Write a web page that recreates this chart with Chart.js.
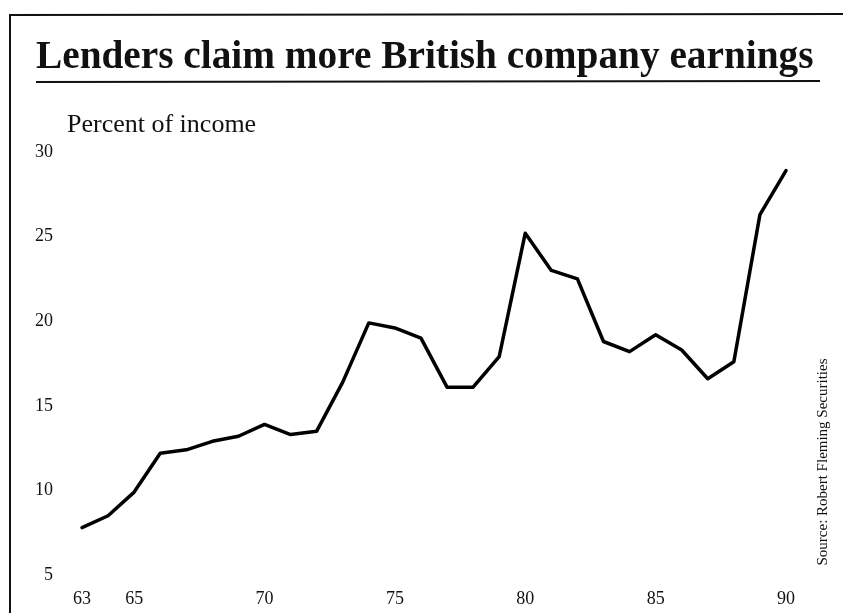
<!DOCTYPE html>
<html>
<head>
<meta charset="utf-8">
<title>Lenders claim more British company earnings</title>
<script src="https://cdn.jsdelivr.net/npm/chart.js@4"></script>
<style>
  html, body { margin: 0; padding: 0; background: #ffffff; }
  #wrap { position: relative; width: 843px; height: 613px; }
  canvas { display: block; }
</style>
</head>
<body>
<div id="wrap"><canvas id="chart" width="843" height="613"></canvas></div>
<script>
// Interest payments as a share of UK company income, 1963-1990
const years = [63, 64, 65, 66, 67, 68, 69, 70, 71, 72, 73, 74, 75, 76, 77,
               78, 79, 80, 81, 82, 83, 84, 85, 86, 87, 88, 89, 90];
const percentOfIncome = [7.8, 8.5, 9.9, 12.2, 12.4, 12.9, 13.2, 13.9, 13.3, 13.5, 16.4, 19.9, 19.6, 19.0, 16.1,
                         16.1, 17.9, 25.2, 23.0, 22.5, 18.8, 18.2, 19.2, 18.3, 16.6, 17.6, 26.3, 28.9];
const xTickLabels = [63, 65, 70, 75, 80, 85, 90];
const yTickLabels = [5, 10, 15, 20, 25, 30];

const titleText = 'Lenders claim more British company earnings';
const unitText = 'Percent of income';
const sourceText = 'Source: Robert Fleming Securities';

const serif = '"Liberation Serif", "DejaVu Serif", serif';

// Frame, headline, rule, unit label and source note drawn around the plot
const decorations = {
  id: 'decorations',
  beforeDraw(chart) {
    const ctx = chart.ctx;
    ctx.save();
    ctx.fillStyle = '#ffffff';
    ctx.fillRect(0, 0, chart.width, chart.height);
    ctx.restore();
  },
  afterDraw(chart) {
    const ctx = chart.ctx;
    ctx.save();
    ctx.strokeStyle = '#111111';
    ctx.fillStyle = '#111111';

    // outer frame: top and left edges
    ctx.lineWidth = 2;
    ctx.beginPath();
    ctx.moveTo(10, 613);
    ctx.lineTo(10, 15);
    ctx.lineTo(843, 14);
    ctx.stroke();

    // headline, fitted to its column width
    let size = 40;
    ctx.font = 'bold ' + size + 'px ' + serif;
    const w = ctx.measureText(titleText).width;
    size = size * 778 / w;
    ctx.font = 'bold ' + size.toFixed(1) + 'px ' + serif;
    ctx.textBaseline = 'alphabetic';
    ctx.textAlign = 'left';
    ctx.fillText(titleText, 36, 68);

    // rule under the headline
    ctx.lineWidth = 2;
    ctx.beginPath();
    ctx.moveTo(36, 82);
    ctx.lineTo(820, 81);
    ctx.stroke();

    // unit label
    ctx.font = '26px ' + serif;
    ctx.fillText(unitText, 67, 132);

    // source note, rotated along the right edge
    ctx.translate(823, 462);
    ctx.rotate(-Math.PI / 2);
    ctx.font = '15px ' + serif;
    ctx.textAlign = 'center';
    ctx.textBaseline = 'middle';
    ctx.fillText(sourceText, 0, 0);
    ctx.restore();
  }
};

new Chart(document.getElementById('chart'), {
  type: 'line',
  data: {
    datasets: [{
      data: years.map((y, i) => ({ x: y, y: percentOfIncome[i] })),
      borderColor: '#000000',
      borderWidth: 3.5,
      borderJoinStyle: 'round',
      borderCapStyle: 'round',
      pointRadius: 0,
      tension: 0,
      fill: false,
      clip: false
    }]
  },
  options: {
    responsive: false,
    animation: false,
    events: [],
    layout: { padding: { top: 152, right: 57, bottom: -2, left: 0 } },
    plugins: {
      legend: { display: false },
      title: { display: false },
      tooltip: { enabled: false }
    },
    scales: {
      x: {
        type: 'linear',
        min: 63,
        max: 90,
        grid: { display: false, drawTicks: false },
        border: { display: false },
        afterBuildTicks(axis) { axis.ticks = xTickLabels.map(v => ({ value: v })); },
        afterFit(axis) { axis.height = 29; },
        ticks: {
          autoSkip: false,
          maxRotation: 0,
          padding: 15,
          color: '#111111',
          font: { family: serif, size: 18, lineHeight: 1 },
          callback: v => String(v)
        }
      },
      y: {
        type: 'linear',
        min: 5,
        max: 30,
        grid: { display: false, drawTicks: false },
        border: { display: false },
        afterBuildTicks(axis) { axis.ticks = yTickLabels.map(v => ({ value: v })); },
        afterFit(axis) { axis.width = 82; },
        ticks: {
          autoSkip: false,
          padding: 29,
          color: '#111111',
          font: { family: serif, size: 18, lineHeight: 1 },
          callback: v => String(v)
        }
      }
    }
  },
  plugins: [decorations]
});
</script>
</body>
</html>
